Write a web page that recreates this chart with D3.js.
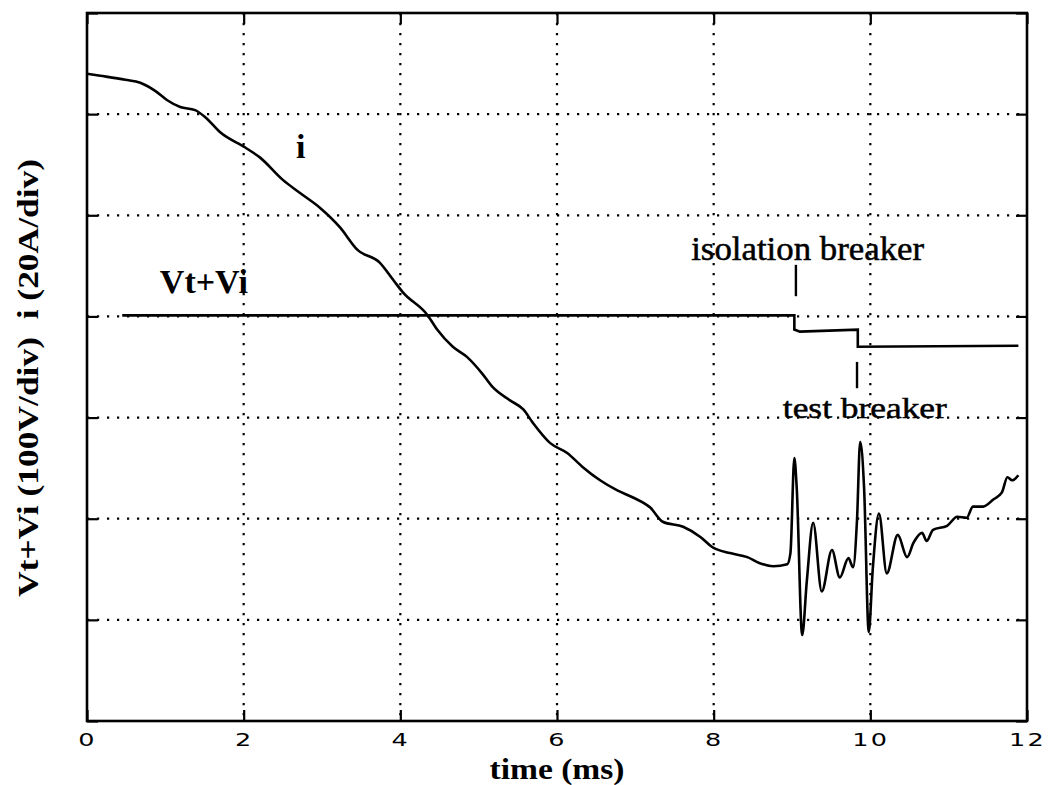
<!DOCTYPE html>
<html>
<head>
<meta charset="utf-8">
<script src="https://cdn.jsdelivr.net/npm/d3@7"></script>
<style>
  html, body { margin: 0; padding: 0; background: #fff; }
  svg { display: block; }
</style>
</head>
<body>
<div id="scope"></div>
<script>
// x ticks (ms) and grid divisions
const timeTicks = [0, 2, 4, 6, 8, 10, 12];
const divTicks = [0, 1, 2, 3, 4, 5, 6, 7];

// current trace i, in screen divisions (20 A/div)
const iTime = [0.0, 0.17, 0.49, 0.68, 0.87, 1.02, 1.19, 1.38, 1.51, 1.70, 2.02, 2.21, 2.50, 2.72,
  2.98, 3.23, 3.45, 3.74, 3.91, 4.03, 4.35, 4.47, 4.67, 4.85, 5.04, 5.18, 5.40, 5.57, 5.69,
  5.91, 6.13, 6.33, 6.55, 6.77, 6.97, 7.19, 7.35, 7.61, 7.83, 7.98, 8.21, 8.43, 8.59, 8.76,
  8.94, 8.98, 9.03, 9.06, 9.13, 9.19, 9.27, 9.38, 9.51, 9.61, 9.72, 9.78, 9.83, 9.87, 9.92,
  9.98, 10.03, 10.11, 10.21, 10.35, 10.47, 10.55, 10.66, 10.72, 10.80, 10.98, 11.11, 11.23,
  11.31, 11.44, 11.57, 11.68, 11.75, 11.81, 11.89];
const iDiv = [6.40, 6.38, 6.34, 6.31, 6.23, 6.14, 6.07, 6.04, 5.97, 5.82, 5.67, 5.57, 5.35, 5.22,
  5.07, 4.88, 4.66, 4.53, 4.36, 4.24, 4.01, 3.87, 3.70, 3.60, 3.44, 3.30, 3.17, 3.08, 2.95,
  2.75, 2.65, 2.51, 2.38, 2.28, 2.21, 2.11, 1.97, 1.92, 1.82, 1.72, 1.66, 1.62, 1.56, 1.53,
  1.55, 1.66, 2.60, 2.31, 0.85, 1.39, 1.96, 1.28, 1.69, 1.42, 1.61, 1.52, 1.99, 2.76, 2.31,
  0.88, 1.49, 2.05, 1.46, 1.84, 1.62, 1.76, 1.86, 1.78, 1.89, 1.93, 2.02, 2.01,
  2.12, 2.12, 2.19, 2.26, 2.41, 2.38, 2.43];

// voltage trace Vt+Vi (100 V/div), steps at the two breaker openings
const vTime = [0.45, 9.03, 9.03, 9.10, 9.84, 9.84, 11.89];
const vDiv = [4.01, 4.01, 3.87, 3.85, 3.87, 3.70, 3.71];

const width = 1048, height = 785;
const margin = { top: 13, right: 21, bottom: 64, left: 87 };

const x = d3.scaleLinear().domain([0, 12]).range([margin.left, width - margin.right]);
const y = d3.scaleLinear().domain([0, 7]).range([height - margin.bottom, margin.top]);

const svg = d3.select("#scope").append("svg")
  .attr("width", width)
  .attr("height", height);

// --- dotted grid ---
const grid = svg.append("g")
  .attr("stroke", "#000")
  .attr("stroke-width", 2.2)
  .attr("stroke-dasharray", "2.2,7.8");

grid.selectAll(".vgrid")
  .data(timeTicks.slice(1, -1))
  .enter().append("line")
  .attr("x1", d => x(d)).attr("x2", d => x(d))
  .attr("y1", y(7)).attr("y2", y(0));

grid.selectAll(".hgrid")
  .data(divTicks.slice(1, -1))
  .enter().append("line")
  .attr("x1", x(0)).attr("x2", x(12))
  .attr("y1", d => y(d)).attr("y2", d => y(d));

// --- axes, ticks pointing inward ---
function styleAxis(g) {
  g.select(".domain").remove();
  g.selectAll(".tick line").attr("stroke", "#000").attr("stroke-width", 2.2);
}

svg.append("g")
  .attr("transform", `translate(0,${y(0)})`)
  .call(d3.axisBottom(x).tickValues(timeTicks).tickSize(-11).tickPadding(13).tickFormat(d3.format("d")))
  .call(styleAxis)
  .selectAll("text")
  .attr("fill", "#000")
  .style("font-family", "'DejaVu Sans', sans-serif")
  .style("font-size", "17px")
  .style("letter-spacing", "1.5px")
  .attr("transform", "scale(1.5,1)");

svg.append("g")
  .attr("transform", `translate(0,${y(7)})`)
  .call(d3.axisTop(x).tickValues(timeTicks).tickSize(-11).tickFormat(""))
  .call(styleAxis);

svg.append("g")
  .attr("transform", `translate(${x(0)},0)`)
  .call(d3.axisLeft(y).tickValues(divTicks).tickSize(-11).tickFormat(""))
  .call(styleAxis);

svg.append("g")
  .attr("transform", `translate(${x(12)},0)`)
  .call(d3.axisRight(y).tickValues(divTicks).tickSize(-11).tickFormat(""))
  .call(styleAxis);

// frame
svg.append("rect")
  .attr("x", x(0)).attr("y", y(7))
  .attr("width", x(12) - x(0)).attr("height", y(0) - y(7))
  .attr("fill", "none")
  .attr("stroke", "#000")
  .attr("stroke-width", 2.6);

// --- traces ---
const iLine = d3.line()
  .x((d, k) => x(iTime[k]))
  .y(d => y(d))
  .curve(d3.curveMonotoneX);

svg.append("path")
  .datum(iDiv)
  .attr("fill", "none")
  .attr("stroke", "#000")
  .attr("stroke-width", 2.6)
  .attr("stroke-linejoin", "round")
  .attr("d", iLine);

const vLine = d3.line()
  .x((d, k) => x(vTime[k]))
  .y(d => y(d));

svg.append("path")
  .datum(vDiv)
  .attr("fill", "none")
  .attr("stroke", "#000")
  .attr("stroke-width", 2.6)
  .attr("d", vLine);

// --- breaker markers ---
const markers = svg.append("g").attr("stroke", "#000").attr("stroke-width", 2.4);
markers.append("line")
  .attr("x1", x(9.05)).attr("x2", x(9.05))
  .attr("y1", y(4.51)).attr("y2", y(4.20));
markers.append("line")
  .attr("x1", x(9.83)).attr("x2", x(9.83))
  .attr("y1", y(3.55)).attr("y2", y(3.29));

// --- labels ---
const serif = "'Liberation Serif', 'Times New Roman', serif";

svg.append("text")
  .attr("x", x(9.20)).attr("y", y(4.56))
  .attr("text-anchor", "middle")
  .attr("textLength", 233).attr("lengthAdjust", "spacingAndGlyphs")
  .attr("stroke", "#000").attr("stroke-width", 0.5)
  .style("font-family", serif).style("font-size", "33px")
  .text("isolation breaker");

svg.append("text")
  .attr("x", x(9.93)).attr("y", y(3.0))
  .attr("text-anchor", "middle")
  .attr("textLength", 164).attr("lengthAdjust", "spacingAndGlyphs")
  .attr("stroke", "#000").attr("stroke-width", 0.5)
  .style("font-family", serif).style("font-size", "30px")
  .text("test breaker");

svg.append("text")
  .attr("x", x(0.93)).attr("y", y(4.23))
  .style("font-family", serif).style("font-size", "34px").style("font-weight", "bold")
  .text("Vt+Vi");

svg.append("text")
  .attr("x", x(2.73)).attr("y", y(5.57))
  .attr("text-anchor", "middle")
  .style("font-family", serif).style("font-size", "34px").style("font-weight", "bold")
  .text("i");

svg.append("text")
  .attr("x", (x(0) + x(12)) / 2).attr("y", 779)
  .attr("text-anchor", "middle")
  .attr("textLength", 135).attr("lengthAdjust", "spacingAndGlyphs")
  .style("font-family", serif).style("font-size", "30px").style("font-weight", "bold")
  .text("time (ms)");

svg.append("text")
  .attr("transform", "translate(38,378) rotate(-90)")
  .attr("text-anchor", "middle")
  .attr("textLength", 438).attr("lengthAdjust", "spacingAndGlyphs")
  .style("font-family", serif).style("font-size", "29px").style("font-weight", "bold")
  .style("white-space", "pre")
  .text("Vt+Vi (100V/div)  i (20A/div)");
</script>
</body>
</html>
